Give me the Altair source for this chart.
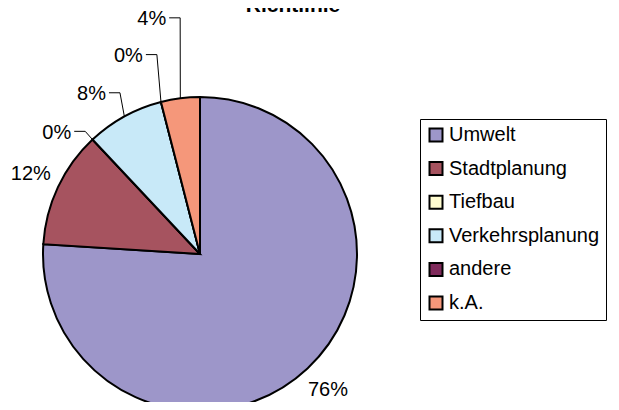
import math
import altair as alt
import pandas as pd

# ---- data ----
categories = ["Umwelt", "Stadtplanung", "Tiefbau", "Verkehrsplanung", "andere", "k.A."]
counts = [19, 3, 0, 2, 0, 1]
pct_labels = ["76%", "12%", "0%", "8%", "0%", "4%"]
colors = ["#9d96c9", "#a6535f", "#fffcd0", "#c8e9f8", "#7f2a5b", "#f5977a"]
title_text = "Richtlinie"

# ---- style ----
CX, CY = 192, 246          # pie centre inside the chart
R = 157                    # pie radius
FONT = "Liberation Sans"
PLAIN_LABEL_R = 187        # labels without leader lines
# leader-line labels: elbow point (angle in degrees clockwise from top, radius)
ELBOWS = {2: (316.9, 168), 3: (333.6, 180), 4: (347.8, 204), 5: (355.2, 237)}
LEAD_LEN = 11

total = sum(counts)
df = pd.DataFrame({"cat": categories, "count": counts, "idx": range(len(categories)),
                   "label": pct_labels})

def polar(ang_deg, r):
    a = math.radians(ang_deg)
    return CX + r * math.sin(a), CY - r * math.cos(a)

cum = 0
text_rows, line_rows = [], []
for i, c in enumerate(counts):
    mid = (cum + c / 2) / total * 360
    cum += c
    if i in ELBOWS:
        ex, ey = polar(*ELBOWS[i])
        px, py = polar(mid, R)
        line_rows += [
            {"g": i, "o": 0, "x": ex - LEAD_LEN, "y": ey},
            {"g": i, "o": 1, "x": ex, "y": ey},
            {"g": i, "o": 2, "x": px, "y": py},
        ]
        text_rows.append({"label": pct_labels[i], "x": ex - LEAD_LEN - 3, "y": ey + 1.5, "al": "right"})
    else:
        tx, ty = polar(mid, PLAIN_LABEL_R)
        text_rows.append({"label": pct_labels[i], "x": tx, "y": ty, "al": "center"})

tdf = pd.DataFrame(text_rows)
ldf = pd.DataFrame(line_rows)

pie = alt.Chart(df).mark_arc(outerRadius=R, stroke="black", strokeWidth=2).encode(
    theta=alt.Theta("count:Q", stack=True),
    order=alt.Order("idx:Q"),
    x=alt.value(CX),
    y=alt.value(CY),
    color=alt.Color(
        "cat:N",
        scale=alt.Scale(domain=categories, range=colors),
        legend=alt.Legend(
            title=None, orient="none", legendX=412, legendY=111,
            strokeColor="black", fillColor="white", padding=6,
            symbolType="square", symbolSize=169, symbolStrokeColor="black",
            symbolStrokeWidth=2, labelFontSize=20, labelFont=FONT,
            labelColor="black", rowPadding=11.6, labelOffset=3,
        ),
    ),
)

leaders = alt.Chart(ldf).mark_line(color="black", strokeWidth=1).encode(
    x=alt.X("x:Q", scale=None),
    y=alt.Y("y:Q", scale=None),
    detail="g:N",
    order="o:Q",
)

texts_c = alt.Chart(tdf[tdf["al"] == "center"]).mark_text(
    font=FONT, fontSize=20, color="black", align="center", baseline="middle"
).encode(x=alt.X("x:Q", scale=None), y=alt.Y("y:Q", scale=None), text="label:N")

texts_r = alt.Chart(tdf[tdf["al"] == "right"]).mark_text(
    font=FONT, fontSize=20, color="black", align="right", baseline="middle"
).encode(x=alt.X("x:Q", scale=None), y=alt.Y("y:Q", scale=None), text="label:N")

title = alt.Chart(pd.DataFrame({"t": [title_text]})).mark_text(
    font=FONT, fontSize=21, fontWeight="bold", color="black", align="center",
    baseline="alphabetic"
).encode(x=alt.value(285), y=alt.value(4), text="t:N")

chart = alt.layer(pie, leaders, texts_c, texts_r, title).properties(
    width=603, height=394, autosize="none", padding=0
).configure_view(stroke=None)

chart.save("out.html", embed_options={"renderer": "svg", "actions": False})
